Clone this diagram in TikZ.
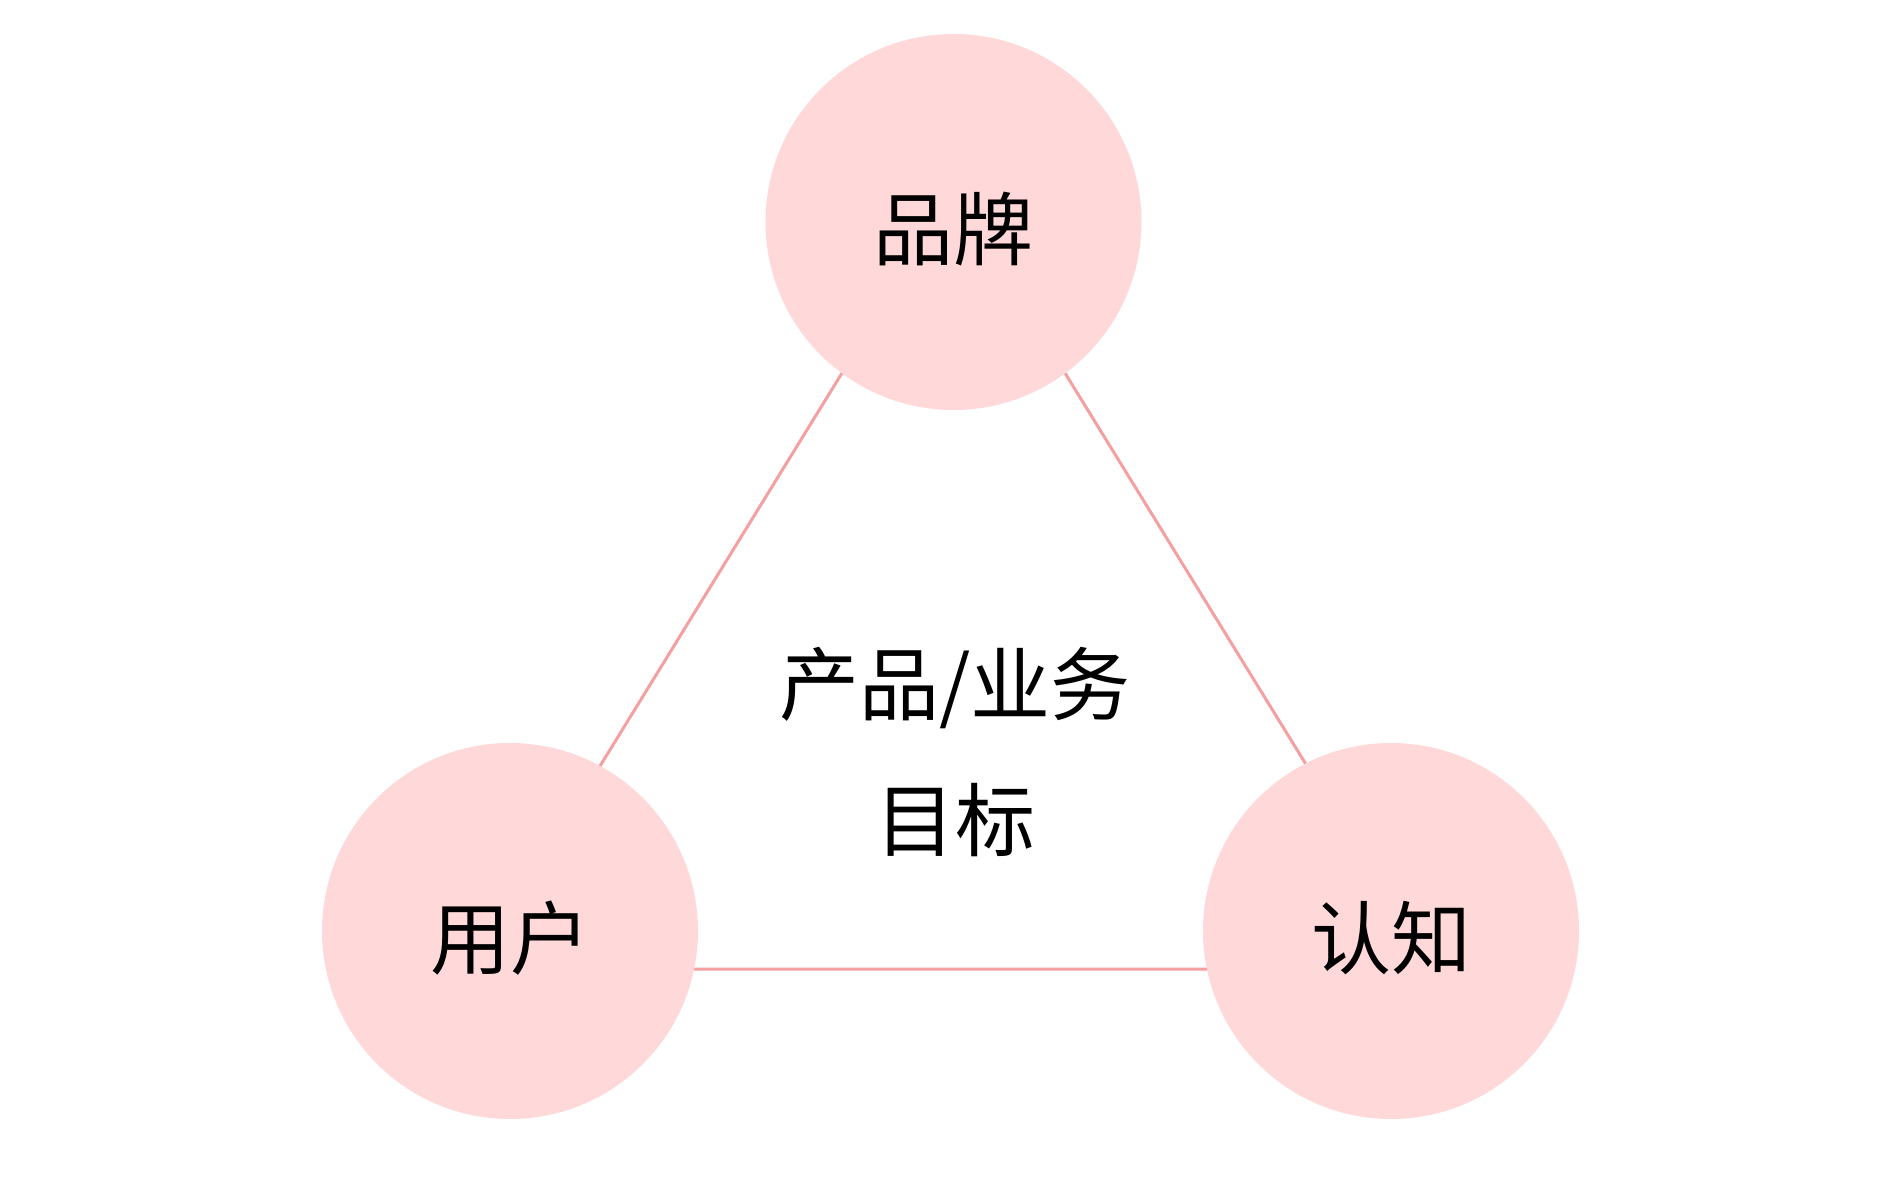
\documentclass[tikz,border=0pt]{standalone}
\usepackage{fontspec}
\setmainfont{Noto Sans CJK SC}
\definecolor{circfill}{RGB}{255,217,218}
\definecolor{linecol}{RGB}{245,160,160}
\newcommand{\lowered}[1]{\raisebox{-7pt}[\height][\depth]{#1}}
\begin{document}
\begin{tikzpicture}[x=1pt,y=-1pt,
  bubble/.style={circle,fill=circfill,draw=none,minimum size=376pt,inner sep=0pt,
    font=\fontsize{80pt}{96pt}\selectfont},
  edge/.style={draw=linecol,line width=3pt}]
\useasboundingbox[fill=white] (0,0) rectangle (1900,1198);
\coordinate (vtop) at (953.5,192);
\coordinate (vleft) at (475,969);
\coordinate (vright) at (1432,969);
\draw[edge] (vtop) -- (vleft) -- (vright) -- cycle;
\node[bubble] (brand) at (953.5,222) {\lowered{品牌}};
\node[bubble] (user) at (510,931) {\lowered{用户}};
\node[bubble] (cog) at (1391,931) {\lowered{认知}};
\node[align=center,font=\fontsize{80pt}{136pt}\selectfont] (goal) at (955,752) {产品/业务\\目标};
\end{tikzpicture}
\end{document}
